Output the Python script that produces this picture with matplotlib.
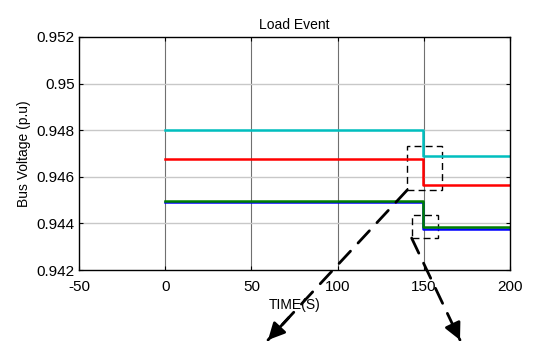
import matplotlib.pyplot as plt

plt.rcParams['font.family'] = ['Liberation Sans', 'DejaVu Sans']
plt.rcParams['axes.unicode_minus'] = False

# step response of bus voltages around the load event
time = [0, 149.5, 149.5, 200]
bus_cyan = [0.9480, 0.9480, 0.94688, 0.94688]
bus_red = [0.94676, 0.94676, 0.94564, 0.94564]
bus_green = [0.94498, 0.94498, 0.94384, 0.94384]
bus_blue = [0.94490, 0.94490, 0.94376, 0.94376]

x_ticks = [-50, 0, 50, 100, 150, 200]
y_ticks = [0.942, 0.944, 0.946, 0.948, 0.95, 0.952]
y_labels = ['0.942', '0.944', '0.946', '0.948', '0.95', '0.952']

fig = plt.figure(figsize=(5.39, 3.41), dpi=100)
ax = fig.add_axes([0.1466, 0.2082, 0.7994, 0.6833])

ax.plot(time, bus_cyan, color='#00bfbf', lw=1.8)
ax.plot(time, bus_red, color='#ff0000', lw=1.8)
ax.plot(time, bus_blue, color='#0000ff', lw=1.8)
ax.plot(time, bus_green, color='#007f00', lw=1.8)

ax.set_xlim(-50, 200)
ax.set_ylim(0.942, 0.952)
ax.set_xticks(x_ticks)
ax.set_yticks(y_ticks)
ax.set_yticklabels(y_labels)
ax.tick_params(direction='in', top=True, right=True, labelsize=11, length=3, pad=3)
ax.tick_params(axis='x', pad=7)
for s in ax.spines.values():
    s.set_linewidth(1.0)

# vertical grid darker than horizontal
for xv in x_ticks[1:-1]:
    ax.axvline(xv, color='#707070', lw=0.8, zorder=0)
for yv in y_ticks[1:-1]:
    ax.axhline(yv, color='#c8c8c8', lw=1.0, zorder=0)

ax.set_title('Load Event', fontsize=10, pad=6)
ax.set_xlabel('TIME(S)', fontsize=10, labelpad=3)
ax.set_ylabel('Bus Voltage (p.u)', fontsize=10, labelpad=4)

# zoom boxes
box_kw = dict(fill=False, ls=(0, (5, 3)), lw=1.0, color='black', clip_on=False)
ax.add_patch(plt.Rectangle((140.4, 0.94543), 20.0, 0.00191, **box_kw))
ax.add_patch(plt.Rectangle((143.0, 0.94337), 15.0, 0.00098, **box_kw))

# dashed pointer arrows leaving the axes
ends = [((140.4, 0.94543), (268, 340)), ((143.0, 0.94337), (460, 340))]
for start, end_px in ends:
    end = (end_px[0] / 539, 1 - end_px[1] / 341)
    ax.annotate('', xy=end, xycoords='figure fraction', xytext=start, textcoords='data',
                arrowprops=dict(arrowstyle='-', ls=(0, (6, 4)), lw=2.0, color='black',
                                shrinkA=0, shrinkB=0), annotation_clip=False)
    # solid arrow head
    sx, sy = fig.transFigure.inverted().transform(ax.transData.transform(start))
    dx, dy = end[0] - sx, end[1] - sy
    ax.annotate('', xy=end, xycoords='figure fraction',
                xytext=(end[0] - dx * 0.15, end[1] - dy * 0.15), textcoords='figure fraction',
                arrowprops=dict(arrowstyle='-|>,head_length=1.0,head_width=0.5', lw=2.0,
                                color='black', shrinkA=0, shrinkB=0),
                annotation_clip=False)

fig.savefig('out.png', dpi=100)
